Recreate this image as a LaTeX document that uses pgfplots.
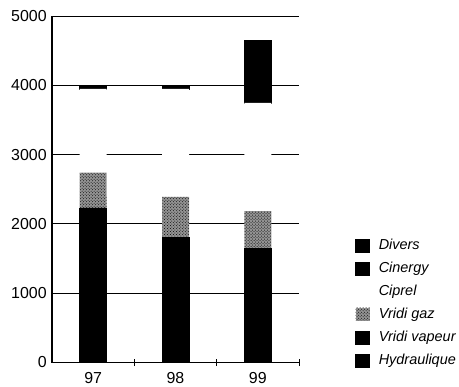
\documentclass[border=0pt]{standalone}
\usepackage{fontspec}
\setmainfont{Liberation Sans}
\usepackage{pgfplots}
\pgfplotsset{compat=1.18}
\usetikzlibrary{patterns}
\begin{document}
\begin{tikzpicture}
\begin{axis}[
  at={(0,0)}, anchor=south west,
  scale only axis, width=247bp, height=346.5bp,
  ybar stacked, bar width=27bp,
  xmin=-0.5, xmax=2.5, ymin=0, ymax=5000,
  xtick={0,1,2}, xticklabels={97,98,99},
  minor xtick={0.5,1.5,2.5},
  major x tick style={draw=none},
  minor x tick style={black, line width=0.8pt},
  tick align=inside,
  minor tick length=7bp,
  ytick={0,1000,...,5000},
  y tick style={draw=none},
  ymajorgrids, major grid style={black, line width=0.9pt},
  axis x line=bottom, axis y line=left,
  axis line style={-, line width=1.1pt},
  /pgf/number format/.cd, 1000 sep={}, assume math mode=true, /pgfplots/.cd,
  ticklabel style={font=\fontsize{16}{19}\selectfont},
  yticklabel style={anchor=east, inner sep=1bp, xshift=-2bp},
  xticklabel style={yshift=-4.5bp},
  legend style={at={(1.227,0.362)}, anchor=north west, draw=none, fill=none,
    font=\fontsize{14.5}{17}\selectfont\itshape, row sep=6bp, inner sep=0pt,
    nodes={inner sep=2bp, text height=10bp, text depth=3bp},
    /tikz/every odd column/.style={column sep=7bp},
    cells={anchor=west}},
  legend image code/.code={\fill[#1] (0bp,-6bp) rectangle (14bp,7bp);},
  reverse legend,
]
% Hydraulique
\addplot[fill=black, draw=black, line width=0.5pt] coordinates {(0,1790) (1,1500) (2,1350)};
% Vridi vapeur
\addplot[fill=black, draw=black, line width=0.5pt] coordinates {(0,440) (1,310) (2,300)};
% Vridi gaz
\addplot[fill=black!42, draw=none, postaction={pattern=crosshatch dots, pattern color=black}] coordinates {(0,510) (1,580) (2,535)};
% Ciprel
\addplot[fill=white, draw=none] coordinates {(0,1210) (1,1560) (2,1560)};
% Cinergy
\addplot[fill=black, draw=black, line width=0.5pt] coordinates {(0,40) (1,40) (2,860)};
% Divers
\addplot[fill=black, draw=black, line width=0.5pt] coordinates {(0,0) (1,0) (2,40)};
\legend{Hydraulique, Vridi vapeur, Vridi gaz, Ciprel, Cinergy, Divers}
\end{axis}
\pgfresetboundingbox
\path[use as bounding box] (-52bp,-24.5bp) rectangle (407bp,362.5bp);
\end{tikzpicture}
\end{document}
